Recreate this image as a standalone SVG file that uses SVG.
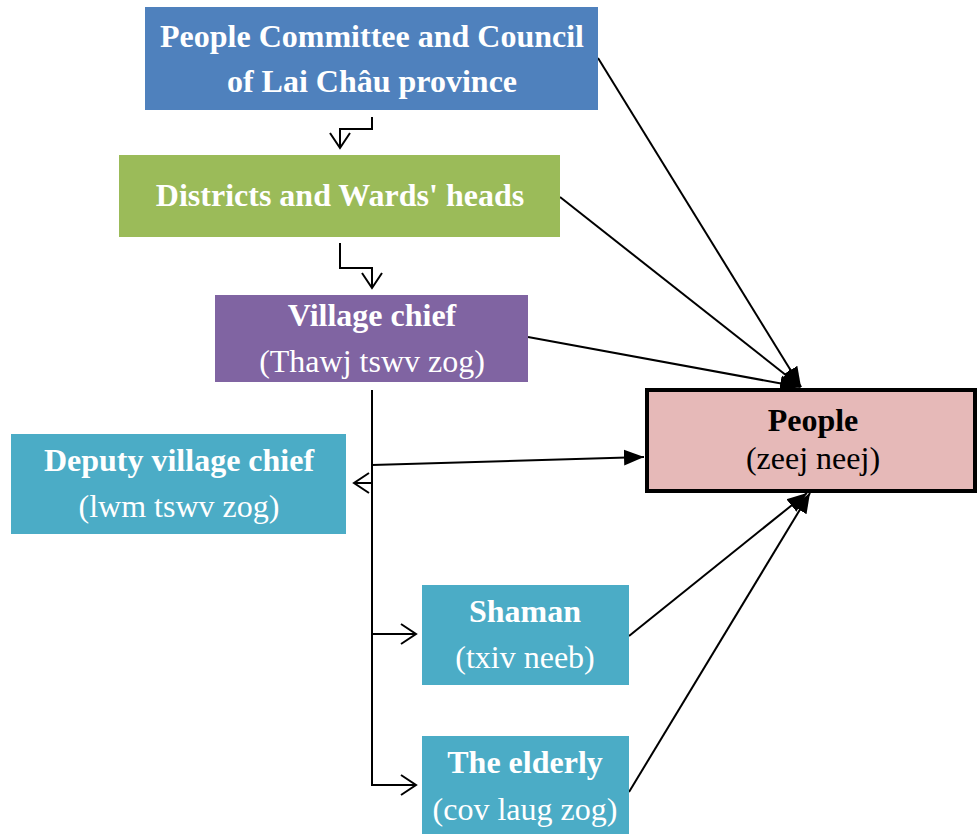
<svg xmlns="http://www.w3.org/2000/svg" width="977" height="834" viewBox="0 0 977 834">
  <style>
    .t { font-family: "Liberation Serif", "Times New Roman", serif; font-size: 32px; fill: #ffffff; text-anchor: middle; }
    .b { font-weight: bold; }
    .dark { fill: #000000; }
    .ln { stroke: #000000; stroke-width: 2; fill: none; }
  </style>
  <defs>
    <marker id="open" markerUnits="userSpaceOnUse" markerWidth="24" markerHeight="24" refX="18" refY="10" orient="auto" viewBox="0 0 24 20">
      <path d="M3,0 L18,10 L3,20" fill="none" stroke="#000" stroke-width="2"/>
    </marker>
    <marker id="solid" markerUnits="userSpaceOnUse" markerWidth="22" markerHeight="18" refX="20" refY="9" orient="auto" viewBox="0 0 22 18">
      <path d="M0,1 L20,9 L0,17 Z" fill="#000"/>
    </marker>
  </defs>

  <rect width="977" height="834" fill="#ffffff"/>

  <g id="connectors">
    <polyline class="ln" points="372,117 372,129 340,129 340,148" marker-end="url(#open)"/>
    <polyline class="ln" points="340,243 340,268 372,268 372,288" marker-end="url(#open)"/>
    <line class="ln" x1="372" y1="390" x2="372" y2="786"/>
    <line class="ln" x1="372" y1="483" x2="354" y2="483" marker-end="url(#open)"/>
    <line class="ln" x1="372" y1="634" x2="416" y2="634" marker-end="url(#open)"/>
    <line class="ln" x1="371" y1="785" x2="416" y2="785" marker-end="url(#open)"/>
    <line class="ln" x1="372" y1="465" x2="644" y2="457" marker-end="url(#solid)"/>
    <line class="ln" x1="598" y1="58" x2="801" y2="387" marker-end="url(#solid)"/>
    <line class="ln" x1="560" y1="197" x2="801" y2="387" marker-end="url(#solid)"/>
    <line class="ln" x1="528" y1="337" x2="800" y2="387" marker-end="url(#solid)"/>
    <line class="ln" x1="629" y1="636" x2="807" y2="493" marker-end="url(#solid)"/>
    <line class="ln" x1="629" y1="792" x2="810" y2="493" marker-end="url(#solid)"/>
  </g>

  <g id="committee">
    <rect x="145" y="7" width="453" height="103" fill="#4F81BD"/>
    <text class="t b" x="372" y="47">People Committee and Council</text>
    <text class="t b" x="372" y="92">of Lai Châu province</text>
  </g>

  <g id="districts">
    <rect x="119" y="155" width="441" height="82" fill="#9BBB59"/>
    <text class="t b" x="340" y="206">Districts and Wards' heads</text>
  </g>

  <g id="village-chief">
    <rect x="215" y="295" width="313" height="87" fill="#8064A2"/>
    <text class="t b" x="372" y="326">Village chief</text>
    <text class="t" x="372" y="372">(Thawj tswv zog)</text>
  </g>

  <g id="deputy">
    <rect x="11" y="434" width="335" height="100" fill="#4BACC6"/>
    <text class="t b" x="179" y="471">Deputy village chief</text>
    <text class="t" x="179" y="517">(lwm tswv zog)</text>
  </g>

  <g id="people">
    <rect x="647" y="390" width="328" height="101" fill="#E6B9B8" stroke="#000" stroke-width="4"/>
    <text class="t b dark" x="813" y="431">People</text>
    <text class="t dark" x="813" y="469">(zeej neej)</text>
  </g>

  <g id="shaman">
    <rect x="422" y="585" width="207" height="100" fill="#4BACC6"/>
    <text class="t b" x="525" y="622">Shaman</text>
    <text class="t" x="525" y="668">(txiv neeb)</text>
  </g>

  <g id="elderly">
    <rect x="422" y="736" width="207" height="98" fill="#4BACC6"/>
    <text class="t b" x="525" y="773">The elderly</text>
    <text class="t" x="525" y="820">(cov laug zog)</text>
  </g>
</svg>
